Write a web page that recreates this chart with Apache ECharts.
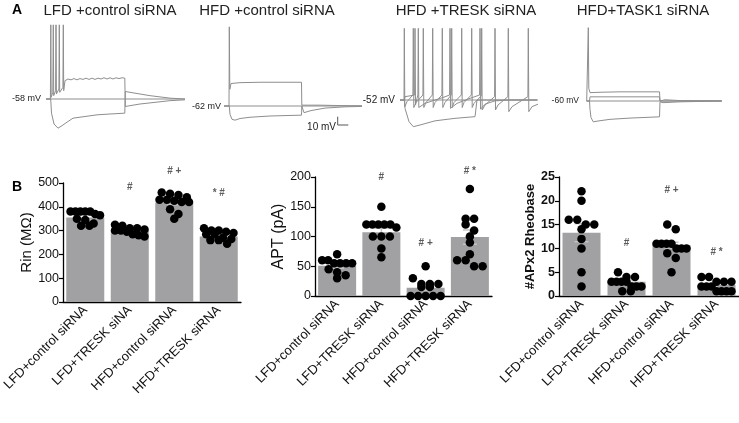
<!DOCTYPE html>
<html><head><meta charset="utf-8">
<script src="https://cdn.jsdelivr.net/npm/echarts@6/dist/echarts.min.js"></script>
<style>html,body{margin:0;padding:0;background:#fff}#c{width:739px;height:423px}</style>
</head><body><div id="c"></div><script>
// ---------- Panel A: traces (time units, mV) ----------
const traceTitles = ['LFD +control siRNA', 'HFD +control siRNA', 'HFD +TRESK siRNA', 'HFD+TASK1 siRNA'];
const restLabels = ['-58 mV', '-62 mV', '-52 mV', '-60 mV'];

const t1Rest = [[6,-58],[145,-58]];
const t1Spiking = [[6,-58],[10.4,-58],[10.8,31],[11.2,-56],[12.8,-50],[13.3,31],[13.7,-54],[15.6,-48],[16,31],[16.4,-52],[18.9,-46],[19.3,31],[19.7,-50],[22.9,-44],[23.3,31],[23.7,-48],[25,-36],[28,-34],[31,-35],[34,-33.5],[37,-35],[40,-33.5],[43,-34.5],[46,-33],[49,-34.5],[52,-33],[55,-34.5],[58,-33],[61,-34],[64,-32.5],[67,-34],[70,-32.5],[73,-34],[76,-32.5],[79,-33.5],[82,-32.5],[84.8,-33],[85.3,-67],[90,-66],[100,-64],[115,-62],[130,-60],[145,-59]];
const t1Hyper = [[6,-58],[10.7,-58],[11.5,-75],[14,-88],[18,-93],[22,-90],[28,-85],[33,-81],[45,-79],[57,-77],[70,-76],[84.8,-75],[85.3,-49],[95,-51],[110,-54],[130,-57],[145,-58]];

const t2Rest = [[39,-62],[177,-62]];
const t2Depol = [[39,-62],[44,-62],[44.3,33],[44.8,-42],[46,-35],[55,-34],[75,-33.5],[95,-33.5],[116.5,-33.5],[116.8,-61],[135,-61],[155,-61.5],[177,-61.8]];
const t2Hyper = [[39,-62],[44.3,-62],[45,-72],[47,-78],[50,-79],[55,-77],[65,-75.5],[85,-74],[100,-73.5],[116.5,-73],[116.8,-62],[117.5,-62],[119,-70],[121,-71],[126,-67.5],[140,-64.5],[160,-63],[177,-62.5]];
const scaleBar = [[152.7,-74.8],[152.7,-84.8],[163.3,-84.8]];

const t3Rest = [[15,-52],[152,-52]];
const t3SpikingA = [[15,-52],[19,-52],[19.3,34],[19.8,-60],[22,-54],[27.9,-46],[28.3,34],[28.8,-61],[31,-55],[37.9,-46],[38.3,34],[38.8,-61],[41,-55],[47.3,-46],[47.7,34],[48.2,-61],[50,-55],[56.9,-46],[57.3,34],[57.8,-61],[60,-55],[66.3,-46],[66.7,34],[67.2,-61],[69,-55],[76.3,-46],[76.7,34],[77.2,-61],[79,-55],[86.3,-46],[86.7,34],[87.2,-61],[89,-56],[96.3,-47],[96.7,34],[97.2,-64],[100,-58],[109.6,-48],[110,34],[110.5,-64],[113,-58],[122.9,-48],[123.3,34],[123.8,-66],[127,-60],[142.9,-48],[143.3,34],[143.8,-66],[147,-60],[153,-57]];
const t3SpikingB = [[15,-52],[19.3,-52],[20,-48],[25,-47],[29.6,-46],[30,34],[30.5,-58],[32,-50],[32.9,-46],[33.3,34],[33.8,-61],[40,-56],[50,-52],[58,-49],[64.6,-46],[65,34],[65.5,-62],[72,-56],[85,-50],[94.6,-46],[95,34],[95.5,-63],[100,-57],[110,-53],[125,-52],[153,-52]];
const t3Hyper = [[15,-52],[19.3,-52],[20,-62],[24,-78],[28.3,-84],[35,-82],[50,-77],[70,-74],[90,-72],[91.5,-72],[92,-52],[120,-52],[152,-52]];

const t4Rest = [[26.7,-60],[161.7,-60]];
const t4Depol = [[26.7,-60],[28,-60],[28.3,28],[28.8,-45],[30,-50],[40,-49.5],[60,-49],[80,-49],[99.5,-49],[100,-60],[105,-58.5],[120,-59.5],[161.7,-59.8]];
const t4Small = [[26.7,-60],[29.5,-60],[30,-55],[60,-55],[99.5,-55],[100,-60],[161.7,-60]];
const t4Hyper = [[26.7,-60],[29.5,-60],[30,-70],[31,-80],[33.3,-85],[38,-84],[50,-82],[70,-80.5],[99.5,-79],[100,-61],[103,-62],[120,-61],[161.7,-60]];

const traceSets = [[t1Rest,t1Spiking,t1Hyper],[t2Rest,t2Depol,t2Hyper],[t3Rest,t3SpikingA,t3SpikingB,t3Hyper],[t4Rest,t4Depol,t4Small,t4Hyper]];

// ---------- Panel B: bar + dot charts ----------
const rinCategories = ['LFD+control siRNA', 'LFD+TRESK siNA', 'HFD+control siRNA', 'HFD+TRESK siRNA'];
const aptCategories = ['LFD+control siRNA', 'LFD+TRESK siRNA', 'HFD+control siRNA', 'HFD+TRESK siRNA'];
const rheoCategories = ['LFD+control siRNA', 'LFD+TRESK siRNA', 'HFD+control siRNA', 'HFD+TRESK siRNA'];

const rinMean = [355, 300, 418, 275];
const rinSem = [10, 6, 9, 8];
const rinPoints = [[380,380,380,380,380,370,365,350,345,330,320,320],[325,320,310,310,305,300,300,295,285,280,275],[460,455,450,440,430,430,425,420,420,390,370,350],[310,300,300,295,290,285,285,270,265,260,260,245]];
const rinSig = ['', '#', '# +', '* #'];
const rinSigAt = [0, 482, 550, 457];

const aptMean = [51, 107, 14, 99];
const aptSem = [4.5, 7, 4.5, 12];
const aptPoints = [[70,60,60,55,55,55,55,45,40,35,30],[150,120,120,120,120,120,115,100,100,100,80,65],[50,30,20,20,20,15,15,0,0,0,0,0],[180,130,130,120,110,100,90,70,60,60,50,50]];
const aptSig = ['', '#', '# +', '# *'];
const aptSigAt = [0, 199, 89, 209];

const rheoMean = [13.3, 3.0, 10.7, 2.3];
const rheoSem = [1.9, 0.4, 0.6, 1.0];
const rheoPoints = [[22,20,16,16,15,15,14,12,10,5,2],[5,4,4,3,3,3,3,2,2,2,1,1],[15,14,11,11,11,11,10,10,10,9,8,5],[4,4,3,3,3,2,2,2,1,1,1,1]];
const rheoSig = ['', '#', '# +', '# *'];
const rheoSigAt = [0, 11.1, 22.3, 9.2];

// ---------- layout ----------
const FONT = 'Liberation Sans, Arial, Helvetica, sans-serif';
const traceGrids = [
  {left:40, top:15, width:150, height:120},
  {left:185, top:15, width:180, height:120},
  {left:385, top:15, width:180, height:120},
  {left:560, top:15, width:179, height:120}
];
const traceYRange = [[-101.2,42.8],[-96.8,47.2],[-94,50],[-100.8,43.2]];
const barGrids = [
  {left:60, top:183, width:181, height:119},
  {left:315, top:177, width:177, height:119},
  {left:559, top:177, width:180, height:119}
];
const charts = [
  {cats:rinCategories, mean:rinMean, sem:rinSem, pts:rinPoints, sig:rinSig, sigAt:rinSigAt, max:500, interval:100, name:'Rin (MΩ)', nameSize:15, nameGap:26, bold:false},
  {cats:aptCategories, mean:aptMean, sem:aptSem, pts:aptPoints, sig:aptSig, sigAt:aptSigAt, max:200, interval:50, name:'APT (pA)', nameSize:16, nameGap:26, bold:false},
  {cats:rheoCategories, mean:rheoMean, sem:rheoSem, pts:rheoPoints, sig:rheoSig, sigAt:rheoSigAt, max:25, interval:5, name:'#APx2 Rheobase', nameSize:13, nameGap:20, bold:true}
];

// Scatter-dot-plot layout: points grouped in rows, spread side by side within each row
function rowOffsets(values, pxPerUnit, diam, catPx, maxHalf) {
  const order = values.map((v, i) => i).sort((a, b) => values[b] - values[a]);
  const out = new Array(values.length);
  let row = [], rowY = null;
  const flush = () => {
    const n = row.length;
    const sp = n > 1 ? Math.min(diam, 2 * maxHalf / (n - 1)) : 0;
    row.forEach((i, j) => { out[i] = ((j - (n - 1) / 2) * sp) / catPx; });
    row = [];
  };
  order.forEach(i => {
    const y = values[i] * pxPerUnit;
    if (rowY === null || rowY - y > 0.7 * diam) { if (row.length) flush(); rowY = y; }
    row.push(i);
  });
  flush();
  return out;
}

const grid = [...traceGrids, ...barGrids];
const xAxis = [], yAxis = [], series = [];
traceGrids.forEach((g, i) => {
  xAxis.push({type:'value', gridIndex:i, min:0, max:g.width, show:false});
  yAxis.push({type:'value', gridIndex:i, min:traceYRange[i][0], max:traceYRange[i][1], show:false});
  traceSets[i].forEach(tr => series.push({type:'line', xAxisIndex:i, yAxisIndex:i, data:tr, showSymbol:false, silent:true,
    lineStyle:{color:'#8e8e8e', width:1}}));
});
series.push({type:'line', xAxisIndex:1, yAxisIndex:1, data:scaleBar, showSymbol:false, lineStyle:{color:'#555', width:1}});

charts.forEach((c, k) => {
  const gi = 4 + k;
  xAxis.push({type:'category', gridIndex:gi, data:c.cats,
    axisLine:{onZero:false, lineStyle:{color:'#000', width:1.3}},
    axisTick:{alignWithLabel:true, length:4, lineStyle:{color:'#000', width:1.2}},
    axisLabel:{rotate:45, interval:0, fontSize:13, margin:6, color:'#111', fontFamily:FONT}});
  yAxis.push({type:'value', gridIndex:gi, min:0, max:c.max, interval:c.interval,
    axisLine:{show:true, onZero:false, lineStyle:{color:'#000', width:1.3}},
    axisTick:{show:true, length:4, lineStyle:{color:'#000', width:1.2}},
    splitLine:{show:false},
    axisLabel:{fontSize:12.5, margin:4, color:'#111', fontFamily:FONT, fontWeight:c.bold?'bold':'normal'},
    name:c.name, nameLocation:'middle', nameGap:c.nameGap,
    nameTextStyle:{fontSize:c.nameSize, color:'#111', fontFamily:FONT, fontWeight:c.bold?'bold':'normal'}});
});
charts.forEach((c, k) => {
  xAxis.push({type:'value', gridIndex:4 + k, min:-0.5, max:3.5, show:false, axisLine:{onZero:false}});
});

charts.forEach((c, k) => {
  const ax = 4 + k, dotAx = 7 + k;
  const g = barGrids[k];
  series.push({type:'bar', xAxisIndex:ax, yAxisIndex:ax, data:c.mean, barWidth:38, silent:true,
    itemStyle:{color:'#a1a1a4'}, z:1});
  series.push({type:'custom', xAxisIndex:ax, yAxisIndex:ax, z:3, silent:true,
    data:c.mean.map((m, i) => [i, m, c.sem[i]]),
    renderItem:(params, api) => {
      const top = api.coord([api.value(0), api.value(1) + api.value(2)]);
      const bot = api.coord([api.value(0), api.value(1) - api.value(2)]);
      const hw = 7, st = {stroke:'#c4c4c4', lineWidth:1.5};
      return {type:'group', children:[
        {type:'line', shape:{x1:top[0], y1:top[1], x2:bot[0], y2:bot[1]}, style:st},
        {type:'line', shape:{x1:top[0]-hw, y1:top[1], x2:top[0]+hw, y2:top[1]}, style:st},
        {type:'line', shape:{x1:bot[0]-hw, y1:bot[1], x2:bot[0]+hw, y2:bot[1]}, style:st}
      ]};
    }});
  const pxPerUnit = g.height / c.max, catPx = g.width / 4;
  const dots = [];
  c.pts.forEach((vals, i) => {
    const offs = rowOffsets(vals, pxPerUnit, 8.5, catPx, 15);
    vals.forEach((v, j) => dots.push([i + offs[j], v]));
  });
  series.push({type:'scatter', xAxisIndex:dotAx, yAxisIndex:ax, data:dots, symbolSize:8.5, z:5, silent:true,
    itemStyle:{color:'#000', opacity:1}});
  const sigData = [];
  c.sig.forEach((s, i) => { if (s) sigData.push({value:[i, c.sigAt[i]], name:s}); });
  series.push({type:'scatter', xAxisIndex:ax, yAxisIndex:ax, clip:false, symbolSize:1, z:6, silent:true,
    itemStyle:{color:'rgba(0,0,0,0)'}, data:sigData,
    label:{show:true, position:'inside', formatter:p => p.name, fontSize:10, fontWeight:'bold', color:'#333', fontFamily:FONT}});
});

const titleCenters = [110, 267, 466, 643];
const labelPos = [[41,99,9],[221,107,9],[395,100,10],[579,101,8.5]];
const graphic = [
  {type:'text', x:12, y:3, style:{text:'A', font:'bold 14px ' + FONT, fill:'#000'}},
  {type:'text', x:12, y:180, style:{text:'B', font:'bold 14px ' + FONT, fill:'#000'}},
  {type:'text', x:336, y:127, style:{text:'10 mV', align:'right', verticalAlign:'middle', font:'10px ' + FONT, fill:'#222'}}
];
traceTitles.forEach((t, i) => graphic.push({type:'text', x:titleCenters[i], y:11,
  style:{text:t, align:'center', verticalAlign:'middle', font:'15px ' + FONT, fill:'#222'}}));
restLabels.forEach((t, i) => graphic.push({type:'text', x:labelPos[i][0], y:labelPos[i][1],
  style:{text:t, align:'right', verticalAlign:'middle', font:labelPos[i][2] + 'px ' + FONT, fill:'#222'}}));

const chart = echarts.init(document.getElementById('c'));
chart.setOption({animation:false, backgroundColor:'#fff', grid, xAxis, yAxis, series, graphic});
</script></body></html>
